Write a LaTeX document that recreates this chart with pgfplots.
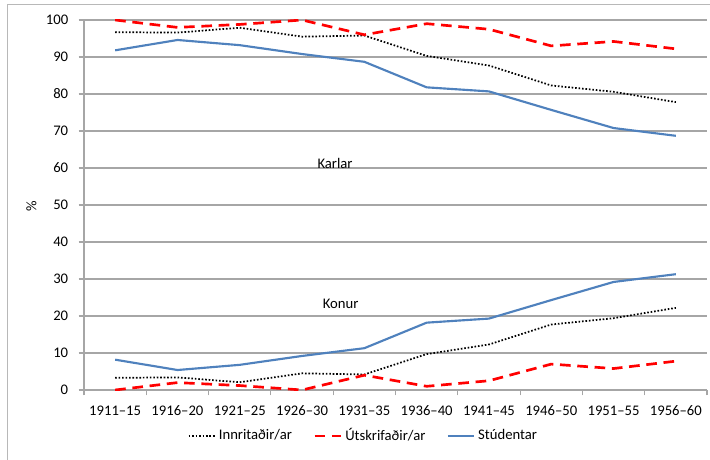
\documentclass[border=0pt]{standalone}
\usepackage{fontspec}
\setmainfont{Carlito}
\usepackage{pgfplots}
\pgfplotsset{compat=1.18}
\definecolor{xlblue}{HTML}{4F81BD}
\definecolor{gridgray}{HTML}{A6A6A6}
\begin{document}
\fontsize{11}{13}\selectfont
\begin{tikzpicture}
\path[use as bounding box] (0,0) rectangle (532.5pt,345pt);
\draw[gridgray!80, line width=0.8pt] (5.6pt,0) -- (5.6pt,341.5pt) -- (532.5pt,341.5pt);
\begin{axis}[
  at={(63pt,52.5pt)}, anchor=south west,
  scale only axis, width=467.25pt, height=277.5pt,
  xmin=-0.5, xmax=9.5, ymin=0, ymax=100,
  axis lines=left, axis line style={-, gridgray, line width=0.8pt},
  xtick={0,...,9},
  xticklabels={1911--15,1916--20,1921--25,1926--30,1931--35,1936--40,1941--45,1946--50,1951--55,1956--60},
  minor xtick={-0.5,0.5,...,9.5},
  major x tick style={draw=none},
  minor x tick style={gridgray, line width=0.8pt},
  ytick={0,10,...,100},
  y tick style={gridgray, line width=0.8pt},
  tick align=outside,
  major tick length=4pt, minor tick length=4pt,
  ymajorgrids, grid style={gridgray, line width=0.8pt},
  xticklabel style={yshift=-4pt},
  yticklabel style={xshift=-4pt},
  /pgf/number format/assume math mode=true,
  legend columns=3,
  legend style={draw=none, at={(0.449,-0.124)}, anchor=center, font=\fontsize{11}{13}\selectfont,
    /tikz/every even column/.append style={column sep=14pt}},
  legend cell align=left,
  legend image code/.code={\draw[#1] (0pt,0pt) -- (20pt,0pt);},
]
\addplot[black, line width=1.3pt, dash pattern=on 1.2pt off 1.4pt] coordinates {
(0,96.7) (1,96.6) (2,97.9) (3,95.5) (4,95.8) (5,90.3) (6,87.7) (7,82.3) (8,80.6) (9,77.8)};
\addlegendentry{Innritaðir/ar}
\addplot[red, line width=2pt, dash pattern=on 8pt off 5pt] coordinates {
(0,100) (1,98.0) (2,98.8) (3,100) (4,96.0) (5,99.0) (6,97.5) (7,93.0) (8,94.2) (9,92.2)};
\addlegendentry{Útskrifaðir/ar}
\addplot[xlblue, line width=1.6pt] coordinates {
(0,91.8) (1,94.6) (2,93.2) (3,90.8) (4,88.7) (5,81.8) (6,80.7) (7,75.7) (8,70.8) (9,68.7)};
\addlegendentry{Stúdentar}
\addplot[black, line width=1.3pt, dash pattern=on 1.2pt off 1.4pt, forget plot] coordinates {
(0,3.3) (1,3.4) (2,2.1) (3,4.5) (4,4.2) (5,9.7) (6,12.3) (7,17.7) (8,19.4) (9,22.2)};
\addplot[red, line width=2pt, dash pattern=on 8pt off 5pt, forget plot] coordinates {
(0,0) (1,2.0) (2,1.2) (3,0) (4,4.0) (5,1.0) (6,2.5) (7,7.0) (8,5.8) (9,7.8)};
\addplot[xlblue, line width=1.6pt, forget plot] coordinates {
(0,8.2) (1,5.4) (2,6.8) (3,9.2) (4,11.3) (5,18.2) (6,19.3) (7,24.3) (8,29.2) (9,31.3)};
\node at (axis cs:3.53,61.2) {Karlar};
\node at (axis cs:3.62,23.4) {Konur};
\end{axis}
\node[rotate=90] at (23.5pt,190.5pt) {\%};
\end{tikzpicture}
\end{document}
